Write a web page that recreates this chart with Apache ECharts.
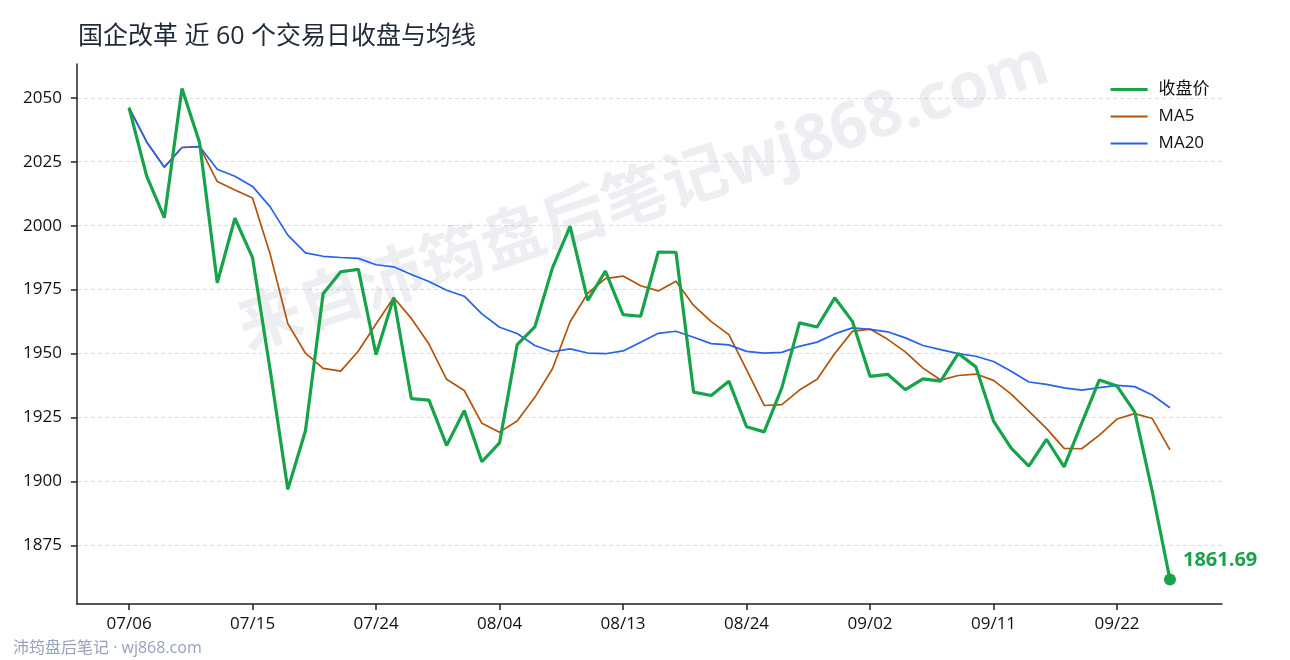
<!DOCTYPE html>
<html><head><meta charset="utf-8">
<script src="https://cdn.jsdelivr.net/npm/echarts@6/dist/echarts.min.js"></script>
<style>html,body{margin:0;padding:0;background:#fff}#c{width:1290px;height:660px}</style>
</head><body><div id="c"></div>
<script>
const titleText = '国企改革 近 60 个交易日收盘与均线';
const footerText = '沛筠盘后笔记 · wj868.com';
const watermarkText = '来自沛筠盘后笔记wj868.com';
const seriesNames = ['收盘价', 'MA5', 'MA20'];

const dates = ['07/06','07/07','07/08','07/09','07/10','07/13','07/14','07/15','07/16','07/17',
  '07/20','07/21','07/22','07/23','07/24','07/27','07/28','07/29','07/30','07/31',
  '08/03','08/04','08/05','08/06','08/07','08/10','08/11','08/12','08/13','08/14',
  '08/17','08/18','08/19','08/20','08/21','08/24','08/25','08/26','08/27','08/28',
  '08/31','09/01','09/02','09/03','09/04','09/07','09/08','09/09','09/10','09/11',
  '09/14','09/15','09/16','09/17','09/18','09/21','09/22','09/23','09/24','09/25'];

const close = [2046.1,2019.4,2003.1,2053.6,2032.4,1977.7,2002.9,1987.5,1943.5,1896.9,
  1919.8,1973.4,1982.0,1982.9,1949.6,1971.8,1932.4,1931.8,1914.1,1927.7,
  1907.7,1915.1,1953.5,1960.4,1983.5,1999.7,1970.8,1982.2,1965.2,1964.6,
  1989.7,1989.6,1934.9,1933.6,1939.2,1921.4,1919.4,1936.6,1962.0,1960.4,
  1971.8,1962.6,1941.1,1941.9,1935.9,1940.1,1939.2,1950.0,1944.8,1923.6,
  1913.0,1906.0,1916.5,1905.7,1922.8,1939.7,1937.3,1927.2,1896.0,1861.69];

const ma5 = [2046.10,2032.75,2022.87,2030.55,2030.92,2017.24,2013.94,2010.82,1988.80,1961.70,
  1950.14,1944.24,1943.12,1951.02,1961.54,1971.94,1963.74,1953.70,1939.94,1935.56,
  1922.74,1919.28,1923.62,1932.88,1944.04,1962.44,1973.58,1979.32,1980.28,1976.50,
  1974.50,1978.26,1968.80,1962.48,1957.40,1943.74,1929.70,1930.04,1935.72,1939.96,
  1950.04,1958.68,1959.58,1955.56,1950.66,1944.32,1939.64,1941.42,1942.00,1939.54,
  1934.12,1927.48,1920.78,1912.96,1912.80,1918.14,1924.40,1926.54,1924.60,1912.38];

const ma20 = [2046.10,2032.75,2022.87,2030.55,2030.92,2022.05,2019.31,2015.34,2007.36,1996.31,
  1989.35,1988.03,1987.56,1987.23,1984.72,1983.91,1980.88,1978.16,1974.78,1972.43,
  1965.51,1960.30,1957.82,1953.16,1950.71,1951.81,1950.21,1949.94,1951.03,1954.41,
  1957.91,1958.72,1956.36,1953.90,1953.38,1950.86,1950.21,1950.45,1952.84,1954.48,
  1957.68,1960.06,1959.44,1958.51,1956.13,1953.15,1951.57,1949.96,1948.94,1946.89,
  1943.06,1938.88,1937.96,1936.56,1935.74,1936.66,1937.55,1937.08,1933.78,1928.84];

const xTickIdx = [0,7,14,21,28,35,42,49,56];
const yTicks = [1875,1900,1925,1950,1975,2000,2025,2050];

const FONT = "'Open Sans','Noto Sans CJK SC',sans-serif";
const GREEN = '#16a34a', ORANGE = '#b45309', BLUE = '#2563eb';
const toXY = arr => arr.map((v, i) => [i, v]);
const lastIdx = close.length - 1;

const chart = echarts.init(document.getElementById('c'));
chart.setOption({
  animation: false,
  backgroundColor: '#fff',
  grid: { left: 77, right: 68, top: 64, bottom: 56, containLabel: false },
  graphic: [
    { type: 'text', x: 78, y: 37, z: 10,
      style: { text: titleText, font: "25px " + FONT, fill: '#1f2937', verticalAlign: 'middle' } },
    { type: 'text', x: 13, y: 648, z: 10,
      style: { text: footerText, font: "16px " + FONT, fill: '#94a3b8', verticalAlign: 'middle' } },
    { type: 'text', x: 644, y: 198, rotation: 18.5 * Math.PI / 180, z: 1, silent: true,
      style: { text: watermarkText, font: "bold 64px " + FONT, fill: 'rgba(148,163,184,0.18)',
               align: 'center', verticalAlign: 'middle' } }
  ],
  legend: {
    data: [
      { name: seriesNames[0], lineStyle: { width: 3.2 } },
      { name: seriesNames[1] },
      { name: seriesNames[2] }
    ],
    orient: 'vertical', left: 1104, top: 76,
    itemWidth: 37, itemHeight: 14, itemGap: 10,
    itemStyle: { opacity: 0, borderWidth: 0 },
    textStyle: { fontSize: 17, color: '#111', fontFamily: FONT, padding: [0, 0, 0, 6] }
  },
  xAxis: {
    type: 'value', min: -2.95, max: 61.95,
    axisLine: { show: true, onZero: false, lineStyle: { color: '#222', width: 1.5 } },
    axisTick: { show: true, inside: false, length: 6, customValues: xTickIdx, lineStyle: { color: '#222', width: 1.5 } },
    axisLabel: { customValues: xTickIdx, formatter: v => dates[Math.round(v)] || '', fontSize: 17,
                 color: '#111', fontFamily: FONT, margin: 12 },
    splitLine: { show: false }
  },
  yAxis: {
    type: 'value', min: 1852.1, max: 2063.2,
    axisLine: { show: true, onZero: false, lineStyle: { color: '#222', width: 1.5 } },
    axisTick: { show: true, inside: false, length: 6, customValues: yTicks, lineStyle: { color: '#222', width: 1.5 } },
    axisLabel: { customValues: yTicks, formatter: v => String(Math.round(v)), fontSize: 17,
                 color: '#111', fontFamily: FONT, margin: 15 },
    splitLine: { show: true, lineStyle: { color: '#dcdcdc', type: [4, 3], width: 1 } }
  },
  series: [
    { name: seriesNames[0], type: 'line', data: toXY(close), symbol: 'none', showSymbol: false, z: 5,
      lineStyle: { color: GREEN, width: 3.2 }, itemStyle: { color: GREEN } },
    { name: seriesNames[1], type: 'line', data: toXY(ma5), symbol: 'none', showSymbol: false, z: 3,
      lineStyle: { color: ORANGE, width: 1.7 }, itemStyle: { color: ORANGE } },
    { name: seriesNames[2], type: 'line', data: toXY(ma20), symbol: 'none', showSymbol: false, z: 4,
      lineStyle: { color: BLUE, width: 1.7 }, itemStyle: { color: BLUE } },
    { name: 'last', type: 'scatter', data: [[lastIdx, close[lastIdx]]], symbolSize: 12, z: 6,
      itemStyle: { color: GREEN, opacity: 1 },
      label: { show: true, position: 'right', distance: 7, offset: [0, -19],
               formatter: p => p.value[1].toFixed(2), fontSize: 20, fontWeight: 'bold',
               color: GREEN, opacity: 1, fontFamily: FONT } }
  ]
});
</script>
</body></html>
